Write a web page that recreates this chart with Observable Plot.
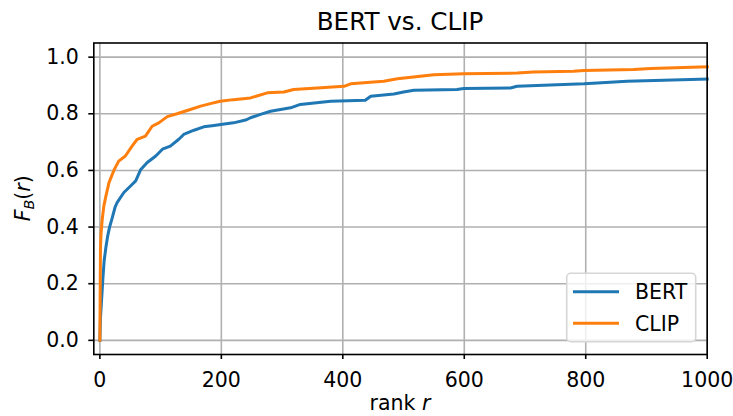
<!DOCTYPE html>
<html>
<head>
<meta charset="utf-8">
<script src="https://cdn.jsdelivr.net/npm/d3@7"></script>
<script src="https://cdn.jsdelivr.net/npm/@observablehq/plot@0.6"></script>
<style>
  html, body { margin: 0; padding: 0; background: #fff; }
  #chart { width: 733px; height: 416px; }
</style>
</head>
<body>
<div id="chart"></div>
<script>
// ---- data ----
const title = "BERT vs. CLIP";
const seriesNames = ["BERT", "CLIP"];
const seriesColors = ["#1f77b4", "#ff7f0e"];

const bertRank = [0, 1, 3, 5, 7, 10, 13, 16, 20, 25, 28.6, 39.5, 50.5, 59, 67, 78, 92, 103, 116, 130, 138, 155, 171, 188, 199, 220, 240, 248, 264.5, 281, 314, 330, 380, 437, 446, 484, 500, 517, 588, 599, 676, 687, 797, 819, 868, 1000];
const bertF    = [0, 0.08, 0.15, 0.22, 0.28, 0.33, 0.37, 0.40, 0.43, 0.47, 0.487, 0.522, 0.545, 0.563, 0.602, 0.628, 0.651, 0.675, 0.686, 0.71, 0.727, 0.742, 0.754, 0.759, 0.762, 0.768, 0.778, 0.786, 0.798, 0.809, 0.821, 0.833, 0.844, 0.848, 0.862, 0.870, 0.877, 0.883, 0.886, 0.889, 0.891, 0.897, 0.906, 0.909, 0.915, 0.923];

const clipRank = [0, 1, 2, 4, 6.6, 10, 15, 23, 31, 42, 53, 61.5, 75, 86, 97, 111, 127, 149, 166, 182, 198, 220, 248, 275.6, 303, 319, 358, 402, 413, 467.5, 490, 550, 599, 687, 714, 780, 797, 879, 907, 1000];
const clipF    = [0, 0.33, 0.38, 0.43, 0.475, 0.51, 0.557, 0.6, 0.633, 0.651, 0.686, 0.71, 0.721, 0.756, 0.768, 0.79, 0.80, 0.815, 0.827, 0.836, 0.844, 0.85, 0.856, 0.874, 0.877, 0.886, 0.891, 0.897, 0.906, 0.915, 0.924, 0.938, 0.941, 0.944, 0.948, 0.95, 0.953, 0.956, 0.96, 0.966];

const xTicks = [0, 200, 400, 600, 800, 1000];
const yTicks = [0.0, 0.2, 0.4, 0.6, 0.8, 1.0];
const xDomain = [-10, 1000];
const yDomain = [-0.05, 1.05];

// ---- build tables ----
const bert = bertRank.map((r, i) => ({r, f: bertF[i], s: seriesNames[0]}));
const clip = clipRank.map((r, i) => ({r, f: clipF[i], s: seriesNames[1]}));

const W = 733, H = 416;
const mL = 93.3, mR = 26.3, mT = 42.5, mB = 62;
const FONT = "DejaVu Sans, Liberation Sans, sans-serif";
const FS = 20.5;

const chart = Plot.plot({
  width: W,
  height: H,
  marginLeft: mL,
  marginRight: mR,
  marginTop: mT,
  marginBottom: mB,
  style: {fontFamily: FONT, fontSize: FS + "px", background: "#fff", color: "#000", overflow: "visible"},
  x: {domain: xDomain, label: null},
  y: {domain: yDomain, label: null},
  marks: [
    Plot.gridX(xTicks, {stroke: "#b0b0b0", strokeOpacity: 1, strokeWidth: 1.6}),
    Plot.gridY(yTicks, {stroke: "#b0b0b0", strokeOpacity: 1, strokeWidth: 1.6}),
    Plot.line(bert, {x: "r", y: "f", stroke: seriesColors[0], strokeWidth: 3, strokeLinejoin: "round", strokeLinecap: "square"}),
    Plot.line(clip, {x: "r", y: "f", stroke: seriesColors[1], strokeWidth: 3, strokeLinejoin: "round", strokeLinecap: "square"}),
    Plot.frame({stroke: "#000", strokeWidth: 1.6}),
    Plot.axisX(xTicks, {tickSize: 5, tickPadding: 12.5, strokeWidth: 1.6, fontSize: FS, tickFormat: d3.format("d"), label: null}),
    Plot.axisY(yTicks, {tickSize: 5, tickPadding: 10, strokeWidth: 1.6, fontSize: FS, tickFormat: d3.format(".1f"), label: null})
  ]
});

document.getElementById("chart").appendChild(chart);

// ---- title, axis labels, legend (annotations) ----
const svg = d3.select(chart);
const cx = (mL + (W - mR)) / 2;

svg.append("text")
  .attr("x", cx).attr("y", 29.5)
  .attr("text-anchor", "middle")
  .attr("font-family", FONT).attr("font-size", 24.6)
  .attr("fill", "#000")
  .text(title);

// x label: rank r
const xl = svg.append("text")
  .attr("x", cx).attr("y", 410)
  .attr("text-anchor", "middle")
  .attr("font-family", FONT).attr("font-size", FS)
  .attr("fill", "#000");
xl.append("tspan").text("rank ");
xl.append("tspan").attr("font-style", "italic").text("r");

// y label: F_B(r)
const yl = svg.append("text")
  .attr("transform", `translate(30, ${(mT + (H - mB)) / 2}) rotate(-90)`)
  .attr("text-anchor", "middle")
  .attr("font-family", FONT).attr("font-size", FS)
  .attr("fill", "#000");
yl.append("tspan").attr("font-style", "italic").text("F");
yl.append("tspan").attr("font-style", "italic").attr("font-size", FS * 0.7).attr("dy", 4).text("B");
yl.append("tspan").attr("dy", -4).text("(");
yl.append("tspan").attr("font-style", "italic").text("r");
yl.append("tspan").text(")");

// legend (bottom right)
const lg = svg.append("g").attr("text-anchor", "start");
lg.append("rect")
  .attr("x", 566.7).attr("y", 273.3)
  .attr("width", 129).attr("height", 68.4)
  .attr("rx", 4).attr("ry", 4)
  .attr("fill", "#fff").attr("fill-opacity", 0.8)
  .attr("stroke", "#d6d6d6").attr("stroke-width", 1.6);
seriesNames.forEach((name, i) => {
  const yy = 291.7 + i * 31.6;
  lg.append("line")
    .attr("x1", 573).attr("x2", 619)
    .attr("y1", yy).attr("y2", yy)
    .attr("stroke", seriesColors[i]).attr("stroke-width", 3);
  lg.append("text")
    .attr("x", 635).attr("y", yy)
    .attr("dy", "0.36em")
    .attr("text-anchor", "start")
    .attr("font-family", FONT).attr("font-size", FS)
    .attr("fill", "#000")
    .text(name);
});
</script>
</body>
</html>
